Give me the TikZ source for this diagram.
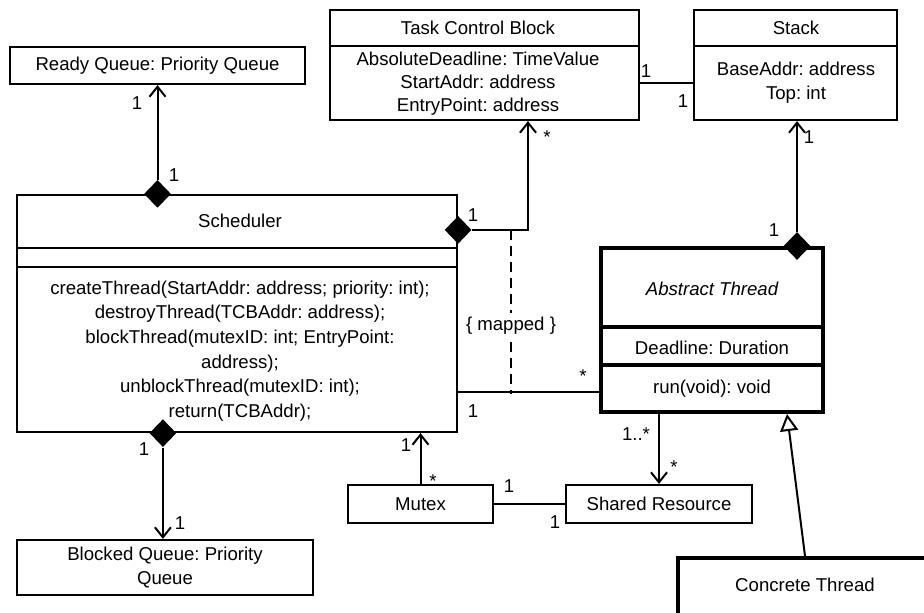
\documentclass[tikz,border=0pt]{standalone}
\usepackage{fontspec}
\setmainfont{Liberation Sans}
\usetikzlibrary{arrows.meta,calc,fit,shapes.geometric}
\frenchspacing

\tikzset{
  box/.style={draw, line width=1.1pt, inner sep=0pt},
  thickbox/.style={draw, line width=2pt, inner sep=0pt},
  dmd/.style={diamond, fill=black, inner sep=0pt, minimum width=13.5pt, minimum height=14pt},
  txt/.style={align=center, inner sep=0pt, font=\fontsize{9.3}{12}\selectfont},
  mult/.style={inner sep=0pt, font=\fontsize{9.3}{12}\selectfont},
  assoc/.style={line width=1pt},
  nav/.style={line width=1pt, -{Straight Barb[length=5pt,width=8pt]}},
  gen/.style={line width=1pt, -{Triangle[length=8.5pt,width=9pt,fill=white]}},
}

\begin{document}
\begin{tikzpicture}[x=0.5pt,y=-0.5pt]
    \useasboundingbox (0,0) rectangle (924,612);
    \clip (0,0) rectangle (924,612);
    % classes
    \node[box, fit={(10,47) (305,84)}] (ready) {};
    \node[box, fit={(330,10) (639,120)}] (tcb) {};
    \node[box, fit={(694,10) (897,120)}] (stack) {};
    \node[box, fit={(17,195) (457,432)}] (sched) {};
    \node[thickbox, fit={(601,248) (823,412)}] (abst) {};
    \node[box, fit={(17,540) (313,595)}] (blocked) {};
    \node[box, fit={(348,485) (493,523)}] (mutex) {};
    \node[box, fit={(566,485) (752,523)}] (shared) {};
    \node[thickbox, fit={(678,558) (932,652)}] (concrete) {};
    % compartments
    \draw[line width=1.1pt] ($(tcb.north west)+(0,37)$) -- ($(tcb.north east)+(0,37)$);
    \draw[line width=1.1pt] ($(stack.north west)+(0,37)$) -- ($(stack.north east)+(0,37)$);
    \draw[line width=1.1pt] ($(sched.north west)+(0,54)$) -- ($(sched.north east)+(0,54)$);
    \draw[line width=1.1pt] ($(sched.north west)+(0,73)$) -- ($(sched.north east)+(0,73)$);
    \draw[line width=2pt] ($(abst.north west)+(0,81)$) -- ($(abst.north east)+(0,81)$);
    \draw[line width=2pt] ($(abst.north west)+(0,119)$) -- ($(abst.north east)+(0,119)$);
    % texts
    \node[txt] (readyT) at (ready.center) {Ready Queue: Priority Queue};
    \node[txt] (tcbT) at (478,28) {Task Control Block};
    \node[txt, font=\fontsize{9.3}{11.5}\selectfont] (tcbA) at (478,84) {AbsoluteDeadline: TimeValue\\StartAddr: address\\EntryPoint: address};
    \node[txt] (stackT) at (796,28) {Stack};
    \node[txt] (stackA) at (796,83) {BaseAddr: address\\Top: int};
    \node[txt] (schedT) at (240,221) {Scheduler};
    \node[txt, font=\fontsize{9.3}{12.3}\selectfont] (schedM) at (240,351) {createThread(StartAddr: address; priority: int);\\destroyThread(TCBAddr: address);\\blockThread(mutexID: int; EntryPoint:\\address);\\unblockThread(mutexID: int);\\return(TCBAddr);};
    \node[txt, font=\fontsize{9.3}{12}\selectfont\itshape] (abstT) at (712,289) {Abstract Thread};
    \node[txt] (abstA) at (712,348) {Deadline: Duration};
    \node[txt] (abstM) at (712,389) {run(void): void};
    \node[txt] (blockedT) at (blocked.center) {Blocked Queue: Priority\\Queue};
    \node[txt] (mutexT) at (mutex.center) {Mutex};
    \node[txt] (sharedT) at (shared.center) {Shared Resource};
    \node[txt] (concreteT) at (805,585) {Concrete Thread};
    % compositions
    \node[dmd] (d1) at (sched.north -| ready.south) {};
    \node[dmd] (d2) at ($(sched.north east)+(0,36)$) {};
    \node[dmd] (d3) at ($(sched.south west)+(147,0)$) {};
    \node[dmd] (d4) at ($(abst.north east)+(-28,0)$) {};
    \draw[nav] (d1.north) -- (d1.north |- ready.south);
    \draw[nav] (d2.east) -| ($(tcb.south)+(43.5,0)$);
    \draw[nav] (d3.south) -- (d3.south |- blocked.north);
    \draw[nav] (d4.north) -- (d4.north |- stack.south);
    % associations
    \draw[assoc] ($(tcb.east)+(0,18)$) -- ($(stack.west)+(0,18)$);
    \coordinate (thr) at ($(abst.south west)+(0,-22)$);
    \draw[assoc] (thr) -- (thr -| sched.east);
    \draw[nav] (mutex.north) -- (mutex.north |- sched.south);
    \draw[assoc] (mutex) -- (shared);
    \draw[nav] (abst.south -| shared.north) -- (shared.north);
    \coordinate (mapTop) at ($(d2.east)+(39,0)$);
    \draw[assoc, dash pattern=on 5pt off 3pt] (mapTop) -- node[txt, pos=0.585, fill=white, inner sep=2pt] (mapT) {\{ mapped \}} ($(mapTop |- thr)+(0,2)$);
    % inheritance
    \draw[gen] (concrete.north) -- ($(abst.south)+(75,0)$);
    % multiplicities
    \node[mult] (m1) at (137,103) {1};
    \node[mult] (m2) at (174,175) {1};
    \node[mult] (m3) at (473,215) {1};
    \node[mult] (m4) at (547,137) {*};
    \node[mult] (m5) at (646,71) {1};
    \node[mult] (m6) at (683,101) {1};
    \node[mult] (m7) at (809,137) {1};
    \node[mult] (m8) at (774,230) {1};
    \node[mult] (m9) at (583,376) {*};
    \node[mult] (m10) at (473,411) {1};
    \node[mult] (m11) at (144,449) {1};
    \node[mult] (m12) at (180,523) {1};
    \node[mult] (m13) at (406,445) {1};
    \node[mult] (m14) at (433,481) {*};
    \node[mult] (m15) at (509,486) {1};
    \node[mult] (m16) at (555,522) {1};
    \node[mult] (m17) at (636,434) {1..*};
    \node[mult] (m18) at (674,467) {*};
\end{tikzpicture}
\end{document}
